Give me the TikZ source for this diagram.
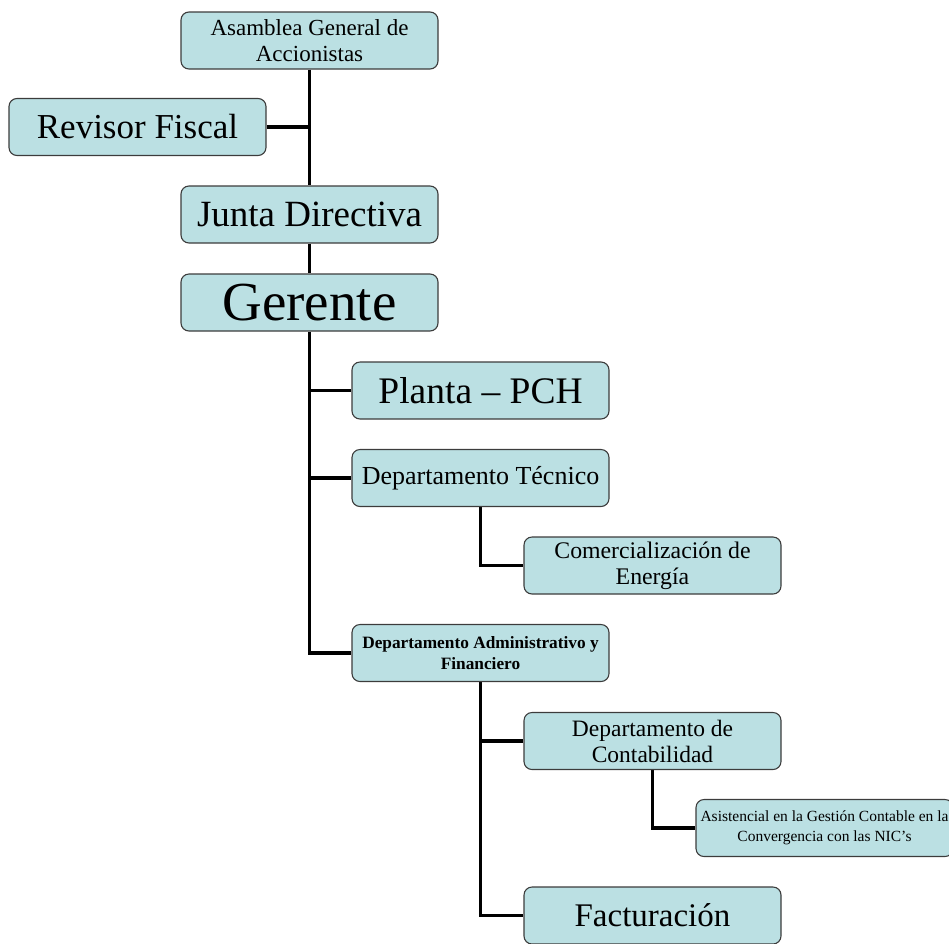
\documentclass[tikz,border=0pt]{standalone}
\usepackage{fontspec}
\setmainfont{Liberation Serif}
\usetikzlibrary{backgrounds}
\definecolor{boxfill}{RGB}{187,224,227}
\definecolor{boxline}{RGB}{60,60,60}
\tikzset{
  unit/.style={draw=boxline, line width=1.1pt, fill=boxfill, rounded corners=8pt,
    minimum width=257pt, minimum height=57pt, inner sep=2pt, align=center,
    text=black},
  link/.style={line width=3.2pt, black},
}
\begin{document}
\begin{tikzpicture}[x=1pt, y=-1pt]
\useasboundingbox (0,0) rectangle (949,943);

\node[unit, font=\fontsize{23}{25.5}\selectfont] (asam) at (309.5,40.5) {Asamblea General de\\Accionistas};
\node[unit, font=\fontsize{35}{40}\selectfont] (rev) at (137.5,127) {Revisor Fiscal};
\node[unit, font=\fontsize{37}{40}\selectfont] (junta) at (309.5,214.5) {Junta Directiva};
\node[unit, font=\fontsize{55}{60}\selectfont] (ger) at (309.5,302.5) {Gerente};
\node[unit, font=\fontsize{37.5}{42}\selectfont] (planta) at (480.5,390.5) {Planta – PCH};
\node[unit, font=\fontsize{26}{28}\selectfont] (tec) at (480.5,478) {Departamento Técnico};
\node[unit, font=\fontsize{23.8}{26}\selectfont] (com) at (652.5,565.5) {Comercialización de\\Energía};
\node[unit, font=\bfseries\fontsize{17.3}{21}\selectfont] (adm) at (480.5,653) {Departamento Administrativo y\\Financiero};
\node[unit, font=\fontsize{23.5}{26}\selectfont] (cont) at (652.5,741) {Departamento de\\Contabilidad};
\node[unit, font=\fontsize{15.5}{20}\selectfont] (asis) at (824.5,828) {Asistencial en la Gestión Contable en la\\Convergencia con las NIC’s};
\node[unit, font=\fontsize{33}{38}\selectfont] (fac) at (652.5,915.5) {Facturación};

\begin{scope}[on background layer]
  % upper trunk
  \draw[link] (asam.south) -- (junta.north);
  \draw[link] (junta.south) -- (ger.north);
  \draw[link] (rev.east) -- (rev.east -| asam.south);
  % gerente branches
  \draw[link] (ger.south) |- (adm.west);
  \draw[link] (ger.south |- planta.west) -- (planta.west);
  \draw[link] (ger.south |- tec.west) -- (tec.west);
  % technical department
  \draw[link] (tec.south) |- (com.west);
  % administrative department
  \draw[link] (adm.south) |- (fac.west);
  \draw[link] (adm.south |- cont.west) -- (cont.west);
  % accounting
  \draw[link] (cont.south) |- (asis.west);
\end{scope}
\end{tikzpicture}
\end{document}
